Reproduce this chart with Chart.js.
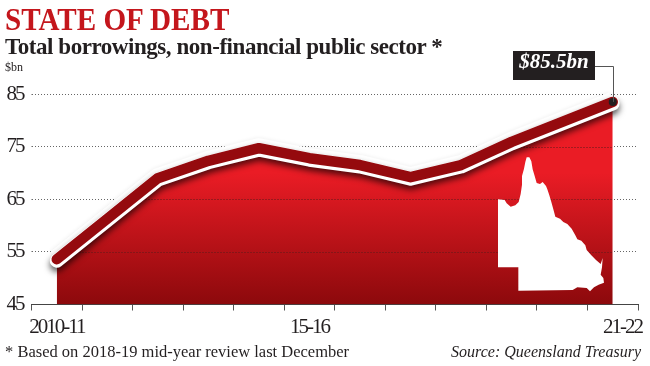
<!DOCTYPE html>
<html>
<head>
<meta charset="utf-8">
<script src="https://cdn.jsdelivr.net/npm/chart.js@4"></script>
<style>
    html, body { margin: 0; padding: 0; background: #fff; }
    #page { position: relative; width: 650px; height: 366px; overflow: hidden; font-family: "Liberation Serif", serif; color: #231f20; }
    #page div { position: absolute; white-space: nowrap; line-height: 1; }
    canvas { position: absolute; left: 0; top: 0; }
    #title { left: 5px; top: 3px; font-size: 32px; font-weight: bold; color: #c4161c; transform: scaleX(0.91); transform-origin: left; }
    #subtitle { left: 5px; top: 35px; font-size: 23px; font-weight: bold; letter-spacing: -0.45px; }
    #unit { left: 5px; top: 61px; font-size: 12px; }
    #callout { left: 513px; top: 51px; width: 82px; height: 29px; line-height: 29px; background: #231f20; color: #fff; text-align: center; font-size: 21px; font-weight: bold; font-style: italic; }
    #note { left: 5px; top: 344px; font-size: 16.5px; }
    #source { right: 9px; top: 344px; font-size: 16px; font-style: italic; }
    svg { position: absolute; left: 490px; top: 150px; }
</style>
</head>
<body>
<div id="page">
    <canvas id="chart" width="650" height="366"></canvas>
    <svg width="130" height="150" viewBox="0 0 390 450">
        <path fill="#fff" d="M110 22 118 22 124 34 128 58 134 78 140 99 150 102 158 96 168 108 172 118 178 136 184 156 190 178 196 200 210 206 220 216 232 222 245 236 256 256 262 268 274 272 286 286 290 300 304 316 318 330 332 342 338 324 336 352 332 374 340 384 342 398 326 404 312 412 300 424 290 414 262 412 248 420 85 422 85 352 24 352 24 148 44 150 50 160 62 170 76 166 86 156 92 132 96 104 96 78 102 56 106 36Z"/>
    </svg>
    <div id="title"></div>
    <div id="subtitle"></div>
    <div id="unit"></div>
    <div id="callout"></div>
    <div id="note"></div>
    <div id="source"></div>
</div>
<script>
const categories = ["2010-11", "11-12", "12-13", "13-14", "14-15", "15-16", "16-17", "17-18", "18-19", "19-20", "20-21", "21-22"];
const borrowings = [53.6, 61.3, 69, 72.3, 74.7, 72.8, 71.5, 69.2, 71.5, 75.9, 79.7, 83.5];
const yTicks = [45, 55, 65, 75, 85];
const shownLabels = ["2010-11", "15-16", "21-22"];
const calloutLabel = "$85.5bn";

document.querySelector("#title").textContent = "STATE OF DEBT";
document.querySelector("#subtitle").textContent = "Total borrowings, non-financial public sector *";
document.querySelector("#unit").textContent = "$bn";
document.querySelector("#callout").textContent = calloutLabel;
document.querySelector("#note").textContent = "* Based on 2018-19 mid-year review last December";
document.querySelector("#source").textContent = "Source: Queensland Treasury";

const DARK = "#231f20";

const areaGradient = ({ chart }) => {
    if (!chart.chartArea) return "#d0151c";
    const y = chart.scales.y;
    const g = chart.ctx.createLinearGradient(0, y.getPixelForValue(70), 0, y.getPixelForValue(45));
    g.addColorStop(0, "#ea1c25");
    g.addColorStop(1, "#8c090c");
    return g;
};

// dotted lines have to show on top of the red area, but stay under the thick line
const drawDotsInArea = (chart, meta) => {
    const { ctx, chartArea, scales } = chart;
    ctx.save();
    ctx.beginPath();
    meta.data.forEach((p, i) => i ? ctx.lineTo(p.x, p.y) : ctx.moveTo(p.x, p.y));
    ctx.lineTo(meta.data[meta.data.length - 1].x, chartArea.bottom);
    ctx.lineTo(meta.data[0].x, chartArea.bottom);
    ctx.closePath();
    ctx.clip();
    ctx.strokeStyle = "#5a1a1a";
    ctx.lineWidth = 1;
    ctx.setLineDash([1, 2]);
    scales.y.ticks.forEach(t => {
        const y = Math.round(scales.y.getPixelForValue(t.value)) + 0.5;
        ctx.beginPath();
        ctx.moveTo(chartArea.left, y);
        ctx.lineTo(chartArea.right, y);
        ctx.stroke();
    });
    ctx.restore();
};

const lineLayers = {
    id: "lineLayers",
    beforeDraw: chart => {
        chart.ctx.letterSpacing = "-2px";
    },
    beforeDatasetDraw: (chart, args) => {
        const { ctx } = chart;
        const name = args.meta.controller.getDataset().layer;
        ctx.save();
        ctx.letterSpacing = "0px";
        if (name === "halo") {
            ctx.shadowColor = "rgba(0,0,0,0.08)";
            ctx.shadowBlur = 4;
        }
        if (name === "rim") {
            ctx.translate(0, 1.5);
            ctx.shadowColor = "rgba(0,0,0,0.65)";
            ctx.shadowBlur = 6;
            ctx.shadowOffsetY = 4;
        }
    },
    afterDatasetDraw: (chart, args) => {
        chart.ctx.restore();
        if (args.meta.controller.getDataset().layer === "area") drawDotsInArea(chart, args.meta);
    },
    afterDatasetsDraw: chart => {
        // leader from the last point up to the callout box
        const { ctx, scales } = chart;
        const last = borrowings.length - 1;
        const x = Math.round(scales.x.getPixelForValue(last)) + 0.5;
        const y = scales.y.getPixelForValue(borrowings[last]);
        ctx.save();
        ctx.strokeStyle = "#555";
        ctx.lineWidth = 1;
        ctx.beginPath();
        ctx.moveTo(595, 66.5);
        ctx.lineTo(x, 66.5);
        ctx.lineTo(x, y);
        ctx.stroke();
        ctx.restore();
    }
};

const lineLayer = (layer, order, color, width, extra) => ({
    layer,
    order,
    data: borrowings,
    borderColor: color,
    borderWidth: width,
    borderCapStyle: "round",
    borderJoinStyle: "round",
    pointRadius: 0,
    tension: 0,
    fill: false,
    clip: false,
    ...extra
});

new Chart(document.querySelector("#chart").getContext("2d"), {
    type: "line",
    data: {
        labels: categories,
        datasets: [
            lineLayer("halo", 4, "#fff", 20, { borderCapStyle: "butt" }),
            lineLayer("area", 3, "rgba(0,0,0,0)", 0, { fill: "start", backgroundColor: areaGradient }),
            lineLayer("rim", 2, "#fff", 14),
            lineLayer("top", 1, "#950a0e", 10.5, {
                pointRadius: c => c.dataIndex === borrowings.length - 1 ? 4 : 0,
                pointBackgroundColor: DARK,
                pointBorderWidth: 0
            })
        ]
    },
    plugins: [lineLayers],
    options: {
        responsive: false,
        animation: false,
        events: [],
        layout: { padding: { top: 94, right: 12, left: 0, bottom: 0 } },
        plugins: { legend: { display: false }, tooltip: { enabled: false }, title: { display: false } },
        scales: {
            x: {
                offset: true,
                // the labels may hang over the plot edge without shrinking it
                afterFit: s => {
                    s.height = 61.5;
                    s.paddingLeft = 0;
                    s.paddingRight = 0;
                },
                grid: { offset: true, drawOnChartArea: false, drawTicks: true, tickLength: 6, tickColor: "#555", tickWidth: 1 },
                border: { display: true, color: "#444", width: 1 },
                ticks: {
                    autoSkip: false,
                    maxRotation: 0,
                    padding: 4,
                    color: DARK,
                    font: { family: "Liberation Serif", size: 21 },
                    // the last label sits right of its category in the reference
                    callback: (v, i) => {
                        const label = categories[i];
                        if (!shownLabels.includes(label)) return "";
                        return i === categories.length - 1 ? "      " + label : label;
                    }
                }
            },
            y: {
                min: yTicks[0],
                max: yTicks[yTicks.length - 1],
                afterFit: s => { s.width = 31.5; },
                afterBuildTicks: s => { s.ticks = yTicks.map(value => ({ value })); },
                grid: { z: -1, color: "#666", lineWidth: 1, tickLength: 0 },
                border: { display: false, dash: [1, 2] },
                ticks: {
                    padding: 8,
                    color: DARK,
                    font: { family: "Liberation Serif", size: 21 }
                }
            }
        }
    }
});
</script>
</body>
</html>
